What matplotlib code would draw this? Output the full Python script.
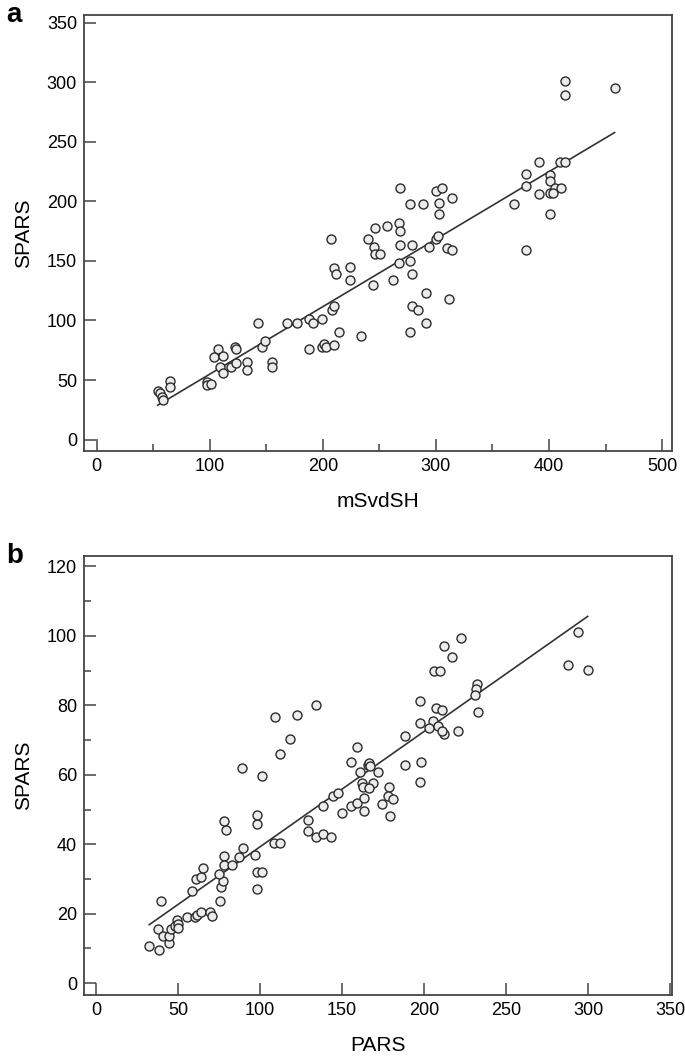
import numpy as np
import matplotlib
matplotlib.use("Agg")
import matplotlib.pyplot as plt
from matplotlib.ticker import MultipleLocator

plt.rcParams['font.family'] = ['Liberation Sans', 'DejaVu Sans']

# panel a: mSvdSH vs SPARS
msvdsh = [54, 56, 58, 59, 65, 65, 98, 98, 101,
          107, 104, 112, 109, 112, 119, 122, 123, 123, 133, 133,
          143, 146, 149, 155, 155, 168, 177,
          188, 191, 199, 208, 210, 214, 234, 188, 199, 201, 203, 210,
          207, 210, 212, 224, 224, 244, 240, 245, 246, 246,
          268, 300, 305, 277, 289, 303, 314, 303, 257, 267, 268,
          251, 268, 279, 294, 300, 302, 310, 314,
          267, 277, 279, 262, 291, 312, 279, 284, 291, 277,
          369, 380, 380, 380, 391, 391,
          401, 401, 401, 405, 401, 410, 414, 404, 411,
          414, 414, 458]
spars_a = [41, 39, 36, 33, 49, 44, 48, 46, 47,
           76, 69, 70, 61, 56, 61, 78, 76, 64, 65, 58,
           98, 78, 83, 65, 61, 98, 98,
           101, 98, 101, 109, 112, 90, 87, 76, 78, 80, 78, 79,
           168, 144, 139, 145, 134, 130, 168, 162, 156, 178,
           211, 209, 211, 198, 198, 199, 203, 189, 179, 182, 175,
           156, 163, 163, 162, 168, 171, 161, 159,
           148, 150, 139, 134, 123, 118, 112, 109, 98, 90,
           198, 159, 223, 213, 233, 206,
           222, 217, 207, 211, 189, 233, 233, 207, 211,
           301, 289, 295]

# panel b: PARS vs SPARS
pars = [32.5, 38.4, 39.4, 37.6, 41, 44.7, 44.7, 45.5, 49.2, 48, 50, 49.8,
        55.3, 60.4, 61.5, 64, 69.5, 70.5,
        58.3, 61, 63.8, 65.4,
        75.6, 76.2, 77.6, 75.2, 78.3, 78.3, 83.1, 87.4, 89.4,
        97, 98, 101, 98.4, 108.7, 112.2,
        79.1, 78.3, 98, 98,
        134, 109.1, 122.8, 118.3, 112.2, 89.2, 101.4,
        129.5, 129.5, 134, 138.6, 143.1,
        138.6, 144.7, 147.4, 149.8, 155.5, 159, 163.6, 163.6,
        155.5, 159, 161, 162.4, 162.6, 166, 166.7, 167,
        172.2, 169.1, 166.7, 178.8, 177.9, 181.3, 174.6, 179.3,
        188.4, 198.2, 197.6, 188.4,
        197.6, 207.3, 210.8, 233.1, 197.6, 205.3, 203, 208.7, 212.4, 211, 221,
        206, 210, 212, 217, 222.4,
        232.5, 231.7, 231.1,
        294.1, 287.6, 299.8]
spars_b = [10.7, 9.6, 23.6, 15.5, 13.6, 11.5, 13.6, 15.5, 18.2, 16.5, 17, 15.8,
           19, 19, 19.5, 20.6, 20.6, 19.4,
           26.6, 29.9, 30.5, 33.1,
           23.6, 27.6, 29.5, 31.4, 36.6, 34, 34, 36.4, 38.8,
           36.9, 31.9, 31.9, 27, 40.4, 40.4,
           44.1, 46.7, 45.8, 48.4,
           80, 76.5, 77.2, 70.2, 66.1, 62.1, 59.6,
           47, 43.9, 42.2, 43.1, 42,
           51, 53.9, 54.8, 48.9, 51, 51.8, 53.2, 49.6,
           63.7, 68, 60.9, 57.5, 56.4, 62.8, 63.3, 62.5,
           60.7, 57.5, 56.1, 56.4, 53.9, 53, 51.5, 48.1,
           62.8, 63.7, 58, 71.1,
           81.3, 79.1, 78.6, 78.1, 74.9, 75.5, 73.6, 74, 71.7, 72.5, 72.6,
           90, 90, 97, 94, 99.5,
           86.1, 84.6, 83.1,
           101.1, 91.5, 90.1]

W, H = 685, 1061
fig = plt.figure(figsize=(W / 100, H / 100), dpi=100)


def panel(box, x, y, xlim, ylim, xmaj, xmin, ymaj, ymin, xlabel, letter):
    l, t, r, b = box
    ax = fig.add_axes([l / W, 1 - b / H, (r - l) / W, (b - t) / H])
    ax.scatter(x, y, s=42, facecolor='#ececec', edgecolor='#2b2b2b',
               linewidth=1.0, zorder=3)
    k, c = np.polyfit(x, y, 1)
    xs = np.array([min(x), max(x)])
    ax.plot(xs, k * xs + c, color='#333333', lw=1.2, zorder=2)
    ax.set_xlim(*xlim)
    ax.set_ylim(*ylim)
    ax.xaxis.set_major_locator(MultipleLocator(xmaj))
    ax.yaxis.set_major_locator(MultipleLocator(ymaj))
    if xmin:
        ax.xaxis.set_minor_locator(MultipleLocator(xmin))
    if ymin:
        ax.yaxis.set_minor_locator(MultipleLocator(ymin))
    ax.tick_params(which='major', direction='in', length=8.5, width=1.1,
                   color='#444444', labelsize=13, pad=5)
    ax.tick_params(which='minor', direction='in', length=5, width=1.1,
                   color='#444444')
    for s in ax.spines.values():
        s.set_color('#444444')
        s.set_linewidth(1.3)
    ax.set_xlabel(xlabel, fontsize=15, labelpad=12)
    ax.set_ylabel('SPARS', fontsize=15, labelpad=10)
    fig.text(6 / W, 1 - (t + 7) / H, letter, fontsize=20, fontweight='bold',
             va='baseline', ha='left')
    return ax


panel((84, 15, 672, 451), msvdsh, spars_a, (-11.2, 508.8), (-9.6, 356.5),
      100, 50, 50, None, 'mSvdSH', 'a')
panel((84, 556, 672, 995), pars, spars_b, (-7.3, 351.2), (-3.4, 123),
      50, None, 20, 10, 'PARS', 'b')

fig.savefig('out.png', dpi=100)
